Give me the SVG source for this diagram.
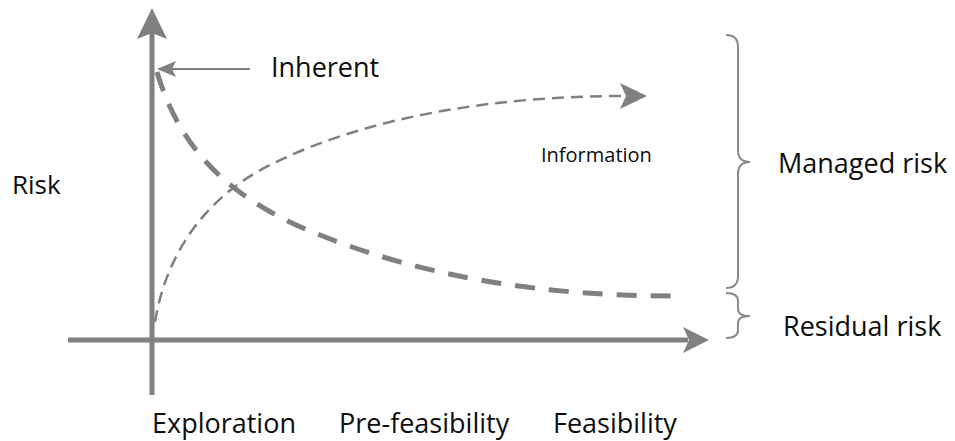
<svg xmlns="http://www.w3.org/2000/svg" width="955" height="441" viewBox="0 0 955 441">
  <style>
    .label { font-family: "Open Sans", "Noto Sans", "Liberation Sans", sans-serif; fill: #0d0d0d; }
    .axis { stroke: #808080; stroke-width: 5; fill: none; }
    .head { fill: #808080; stroke: none; }
    .brace { stroke: #8a8a8a; stroke-width: 2; fill: none; }
    .risk-curve { stroke: #808080; stroke-width: 5; stroke-dasharray: 20 14; fill: none; }
    .info-curve { stroke: #808080; stroke-width: 2.5; stroke-dasharray: 12 7; fill: none; }
    .pointer { stroke: #808080; stroke-width: 2; fill: none; }
  </style>

  <rect width="955" height="441" fill="#ffffff"/>

  <!-- axes -->
  <g id="axes">
    <line class="axis" x1="152" y1="395" x2="152" y2="30"/>
    <polygon class="head" points="152,8 137,39 152,33 167,39"/>
    <line class="axis" x1="68" y1="340" x2="688" y2="340"/>
    <polygon class="head" points="709,340 683,327 689,340 683,353"/>
  </g>

  <!-- curves and pointer -->
  <g id="connectors">
    <path class="risk-curve" d="M157,72 C180,150 230,200 320,235 C420,275 540,297 682,296"/>
    <path class="info-curve" d="M155,322 C165,260 200,200 270,165 C370,115 500,96 624,96"/>
    <polygon class="head" points="647,96 620,83 626,96 620,109"/>
    <line class="pointer" x1="250" y1="69" x2="170" y2="69"/>
    <polygon class="head" points="157,69 176,61 172,69 176,77"/>
  </g>

  <!-- braces -->
  <g id="managed-brace">
    <path class="brace" d="M726,35 Q738,35 738,47 L738,150 Q738,162 750,162 Q738,162 738,174 L738,276 Q738,288 726,288"/>
  </g>
  <g id="residual-brace">
    <path class="brace" d="M726,293 Q738,293 738,301 L738,309 Q738,316 750,316 Q738,316 738,323 L738,330 Q738,338 726,338"/>
  </g>

  <!-- labels -->
  <g id="label-risk"><text class="label" x="12" y="194" font-size="26">Risk</text></g>
  <g id="label-inherent"><text class="label" x="271" y="77" font-size="27">Inherent</text></g>
  <g id="label-information"><text class="label" x="541" y="162" font-size="20">Information</text></g>
  <g id="label-managed"><text class="label" x="778" y="173" font-size="27">Managed risk</text></g>
  <g id="label-residual"><text class="label" x="783" y="336" font-size="27">Residual risk</text></g>
  <g id="label-exploration"><text class="label" x="152" y="433" font-size="27">Exploration</text></g>
  <g id="label-prefeasibility"><text class="label" x="339" y="433" font-size="27">Pre-feasibility</text></g>
  <g id="label-feasibility"><text class="label" x="553" y="433" font-size="27">Feasibility</text></g>
</svg>
